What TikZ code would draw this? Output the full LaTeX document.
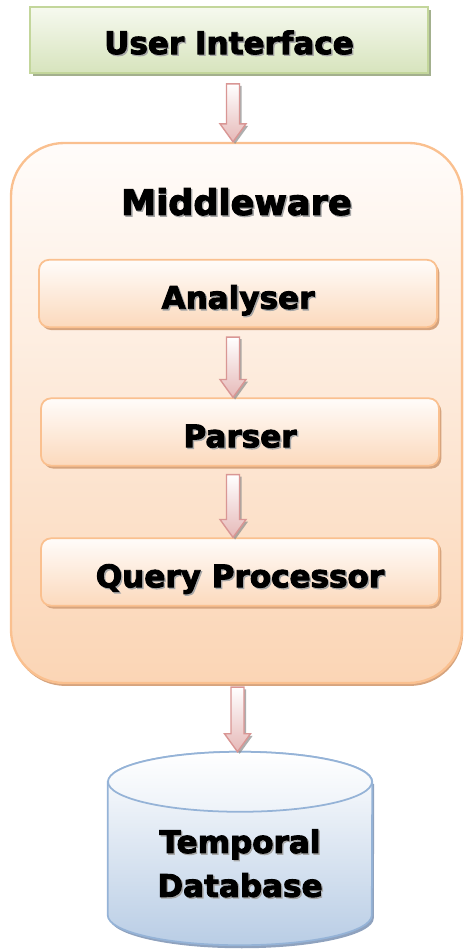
\documentclass[tikz,border=0pt]{standalone}
\usepackage{fontspec}
\setmainfont{DejaVu Sans}[BoldFeatures={FakeBold=3}]
\usetikzlibrary{calc,shadows}

\definecolor{uitop}{HTML}{F6F9EF}
\definecolor{uibottom}{HTML}{D7E4BD}
\definecolor{uiline}{HTML}{C3D69B}
\definecolor{uishadow}{HTML}{A3B08E}
\definecolor{mwtop}{HTML}{FFFCFA}
\definecolor{mwbottom}{HTML}{FBD5B5}
\definecolor{mwline}{HTML}{FAC08F}
\definecolor{mwshadow}{HTML}{D6A47E}
\definecolor{arrowpink}{HTML}{E6B9B8}
\definecolor{arrowline}{HTML}{D99694}
\definecolor{dbbottom}{HTML}{B9CDE5}
\definecolor{dbline}{HTML}{95B3D7}
\definecolor{dbshadow}{HTML}{8FA2BE}

% text with a small grey shadow behind it
\newcommand{\shtext}[1]{\makebox[0pt][l]{\hspace{1.2pt}\raisebox{-1.2pt}{\textcolor{black!35}{#1}}}#1}

% block arrow from a start point down to the border of a node
\newcommand{\flowarrow}[2]{%
  \path #1 coordinate (fa-s);
  \path (fa-s |- #2) coordinate (fa-e);
  \draw[flow arrow] ($(fa-s)+(-6.5,0)$) -- ($(fa-s)+(6.5,0)$) -- ($(fa-e)+(6.5,18)$)
    -- ($(fa-e)+(13,18)$) -- (fa-e) -- ($(fa-e)+(-13,18)$) -- ($(fa-e)+(-6.5,18)$) -- cycle;
}

\tikzset{
  uibox/.style={rectangle, draw=uiline, line width=1.5pt, top color=uitop, bottom color=uibottom,
    minimum width=11.94cm, minimum height=1.98cm, text height=24pt, text depth=0pt,
    font=\fontsize{26.5}{32}\selectfont\bfseries,
    drop shadow={shadow xshift=2.5pt, shadow yshift=-2.5pt, fill=uishadow, opacity=1}},
  mwbox/.style={rectangle, rounded corners=1.6cm, draw=mwline, line width=2pt,
    top color=mwtop, bottom color=mwbottom, minimum width=13.53cm, minimum height=16.2cm,
    drop shadow={shadow xshift=1pt, shadow yshift=-2.5pt, fill=mwshadow, opacity=1}},
  stagebox/.style={rectangle, rounded corners=0.3cm, draw=mwline, line width=1.5pt,
    top color=mwtop, bottom color=mwbottom!90, minimum width=11.94cm, minimum height=2.02cm,
    text height=26pt, text depth=0pt, font=\fontsize{26.5}{32}\selectfont\bfseries,
    drop shadow={shadow xshift=2pt, shadow yshift=-2.5pt, fill=mwshadow, opacity=1}},
  flow arrow/.style={draw=arrowline, line width=1.2pt, line join=miter, top color=white,
    bottom color=arrowpink,
    drop shadow={shadow xshift=1.8pt, shadow yshift=-1.8pt, fill=black!45, opacity=0.7}},
  db line/.style={draw=dbline, line width=1.5pt}
}

\begin{document}
\begin{tikzpicture}[x=0.03cm, y=0.03cm]
\useasboundingbox (0,0) rectangle (464,-949);

% top layer
\node[uibox] (ui) at (229,-40) {\shtext{User Interface}};

% middleware with its three stages
\node[mwbox] (mw) at (236.5,-413) {};
\node[font=\fontsize{30}{36}\selectfont\bfseries] (mwtitle) at (236.5,-202.5) {\shtext{Middleware}};
\node[stagebox] (an) at (238,-293.5) {\shtext{Analyser}};
\node[stagebox] (pa) at (240,-432) {\shtext{Parser}};
\node[stagebox] (qp) at (240,-572) {\shtext{Query Processor}};

% database cylinder
\node[minimum width=7.92cm, minimum height=5.79cm, inner sep=0pt] (db) at (240,-848.5) {};
\fill[dbshadow] ($(db.north west)+(2,-32)$) -- ($(db.south west)+(2,27)$)
  arc[start angle=180, end angle=360, x radius=3.96cm, y radius=0.9cm] -- ($(db.north east)+(2,-32)$) -- cycle;
\path[db line, top color=white, bottom color=dbbottom] ($(db.north west)+(0,-30)$) -- ($(db.south west)+(0,30)$)
  arc[start angle=180, end angle=360, x radius=3.96cm, y radius=0.9cm] -- ($(db.north east)+(0,-30)$)
  arc[start angle=0, end angle=180, x radius=3.96cm, y radius=0.9cm] -- cycle;
\path[db line, top color=white, bottom color=dbbottom!25] ($(db.north)+(0,-30)$) ellipse [x radius=3.96cm, y radius=0.9cm];
\node[align=center, font=\fontsize{26.5}{37.4}\selectfont\bfseries] (dblabel) at (240,-864) {\shtext{Temporal}\\\shtext{Database}};

% arrows between the layers
\flowarrow{($(ui.south)+(4,-10)$)}{mw.north}
\flowarrow{($(an.south)+(-5,-9)$)}{pa.north}
\flowarrow{($(pa.south)+(-7,-8)$)}{qp.north}
\flowarrow{($(mw.south)+(1,-3)$)}{db.north}
\end{tikzpicture}
\end{document}
